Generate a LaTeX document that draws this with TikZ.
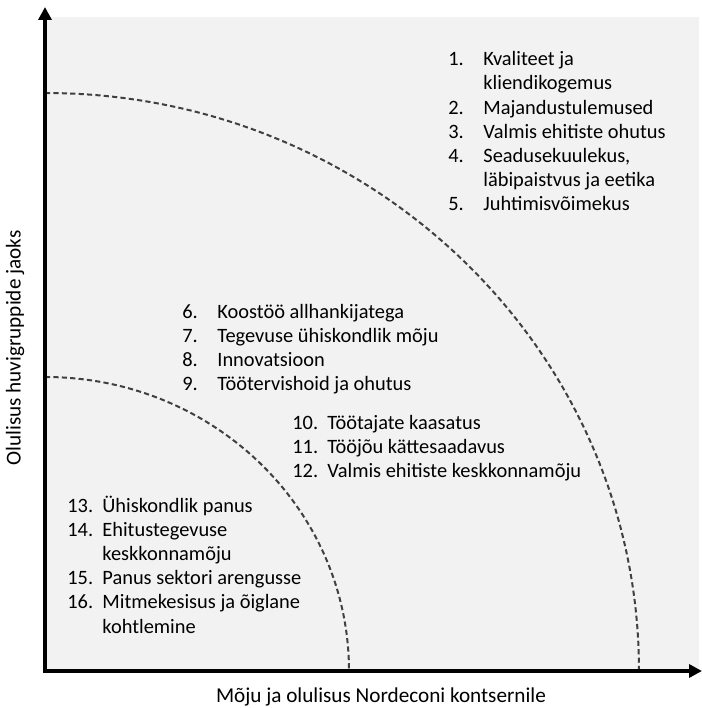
\documentclass[tikz,border=0pt]{standalone}
\usepackage{fontspec}
\setmainfont{Carlito}
\usetikzlibrary{arrows.meta}
\definecolor{panelgray}{HTML}{F2F2F2}
\newcommand{\itemno}[1]{\makebox[17.5pt][l]{#1}}
\newcommand{\itemcont}{\makebox[17.5pt]{}}
\tikzset{
  axis/.style      = {-{Triangle[length=6.5pt,width=6.5pt]}, line width=1.7pt, line cap=rect},
  zone/.style      = {dash pattern=on 2.6pt off 1.6pt, line width=1pt, black!75},
  topics/.style    = {anchor=base west, inner sep=0pt, align=left, font=\fontsize{10.2}{12.1}\selectfont},
  axislabel/.style = {inner sep=0pt, font=\fontsize{10.6}{12}\selectfont}
}

\begin{document}
\begin{tikzpicture}[x=0.5pt, y=0.5pt]
        \useasboundingbox (0,0) rectangle (702,708);
        \fill[panelgray] (47,37) rectangle (699,691);
        \coordinate (origin) at (45,37);
        \coordinate (ytop)   at (45,701);
        \coordinate (xend)   at (702,37);
        \coordinate (outer)  at (45,615);
        \coordinate (inner)  at (45,331);
        % importance zones
        \draw[zone] (outer) arc[start angle=90, end angle=0, x radius=594, y radius=578];
        \draw[zone] (inner) arc[start angle=90, end angle=0, x radius=304, y radius=294];
        \draw[axis] (origin) -- (ytop);
        \draw[axis] (origin) -- (xend);
        \node[axislabel, rotate=90] (ylab) at (15,360) {Olulisus huvigruppide jaoks};
        \node[axislabel] (xlab) at (381,11) {Mõju ja olulisus Nordeconi kontsernile};
        % topic lists (anchored at the last line)
        \node[topics] (high) at (448,497) {\itemno{1.}Kvaliteet ja\\
          \itemcont kliendikogemus\\
          \itemno{2.}Majandustulemused\\
          \itemno{3.}Valmis ehitiste ohutus\\
          \itemno{4.}Seadusekuulekus,\\
          \itemcont läbipaistvus ja eetika\\
          \itemno{5.}Juhtimisvõimekus};
        \node[topics] (midA) at (182,317) {\itemno{6.}Koostöö allhankijatega\\
          \itemno{7.}Tegevuse ühiskondlik mõju\\
          \itemno{8.}Innovatsioon\\
          \itemno{9.}Töötervishoid ja ohutus};
        \node[topics] (midB) at (292,230) {\itemno{10.}Töötajate kaasatus\\
          \itemno{11.}Tööjõu kättesaadavus\\
          \itemno{12.}Valmis ehitiste keskkonnamõju};
        \node[topics] (low) at (67,75) {\itemno{13.}Ühiskondlik panus\\
          \itemno{14.}Ehitustegevuse\\
          \itemcont keskkonnamõju\\
          \itemno{15.}Panus sektori arengusse\\
          \itemno{16.}Mitmekesisus ja õiglane\\
          \itemcont kohtlemine};
      \end{tikzpicture}
\end{document}
